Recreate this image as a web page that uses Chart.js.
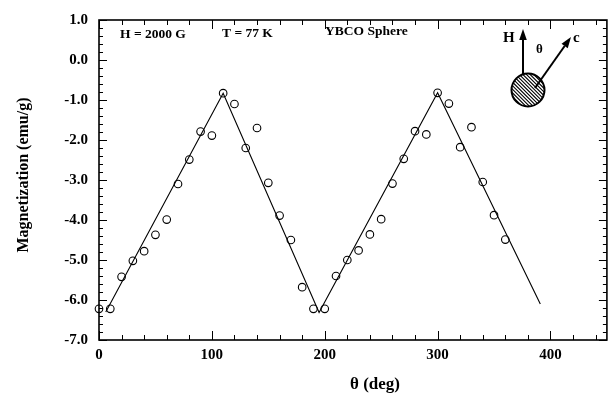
<!DOCTYPE html>
<html>
<head>
<meta charset="utf-8">
<script src="https://cdn.jsdelivr.net/npm/chart.js@4.4.0/dist/chart.umd.min.js"></script>
<style>
html,body{margin:0;padding:0;background:#fff;}
#wrap{width:612px;height:396px;}
</style>
</head>
<body>
<div id="wrap"><canvas id="c" width="612" height="396"></canvas></div>
<script>
// ---- data ----
const angles = [0,10,20,30,40,50,60,70,80,90,100,110,120,130,140,150,160,170,180,
                190,200,210,220,230,240,250,260,270,280,290,300,310,320,330,340,350,360];
const magnetization = [-6.22,-6.22,-5.42,-5.02,-4.78,-4.37,-3.99,-3.10,-2.49,-1.79,-1.89,-0.83,-1.10,-2.20,-1.70,-3.07,-3.89,-4.50,-5.68,
                       -6.22,-6.22,-5.40,-5.00,-4.76,-4.36,-3.98,-3.09,-2.47,-1.78,-1.86,-0.82,-1.09,-2.18,-1.68,-3.05,-3.88,-4.49];
const fitAngles = [6,110,195,300,391];
const fitValues = [-6.30,-0.83,-6.31,-0.82,-6.10];
const xTicks = [0,100,200,300,400];
const yTicks = [1,0,-1,-2,-3,-4,-5,-6,-7];
const xRange = [0,450];
const yRange = [-7,1];
const xMinorStep = 20;
const yMinorStep = 0.2;

const FONT = '"Liberation Serif", "Times New Roman", serif';

const framePlugin = {
  id:'framePlugin',
  afterDraw(chart){
    const {ctx, chartArea:a, scales:{x,y}} = chart;
    ctx.save();
    ctx.strokeStyle='#000';
    ctx.lineWidth=1;
    ctx.beginPath();
    const nx = Math.round((xRange[1]-xRange[0])/xMinorStep);
    for(let i=0;i<=nx;i++){
      const v = xRange[0]+i*xMinorStep;
      const px = Math.round(x.getPixelForValue(v))+0.5;
      const major = xTicks.includes(v);
      const len = major?9:5;
      ctx.moveTo(px,a.bottom); ctx.lineTo(px,a.bottom-len);
      ctx.moveTo(px,a.top); ctx.lineTo(px,a.top+len);
    }
    const ny = Math.round((yRange[1]-yRange[0])/yMinorStep);
    for(let i=0;i<=ny;i++){
      const v = +(yRange[0]+i*yMinorStep).toFixed(3);
      const py = Math.round(y.getPixelForValue(v))+0.5;
      const major = yTicks.some(t=>Math.abs(t-v)<1e-6);
      const len = major?8:4;
      ctx.moveTo(a.left,py); ctx.lineTo(a.left+len,py);
      ctx.moveTo(a.right,py); ctx.lineTo(a.right-len,py);
    }
    ctx.stroke();
    ctx.lineWidth=1.6;
    ctx.strokeRect(a.left,a.top,a.right-a.left,a.bottom-a.top);

    // annotations
    ctx.fillStyle='#000';
    ctx.textBaseline='alphabetic';
    ctx.textAlign='left';
    ctx.font='bold 13.5px '+FONT;
    ctx.fillText('H = 2000 G',120,38);
    ctx.fillText('T = 77 K',222,37);
    ctx.fillText('YBCO Sphere',325,35);

    // axis titles
    ctx.font='bold 17px '+FONT;
    ctx.textAlign='center';
    ctx.fillText('\u03B8 (deg)',375,389);
    ctx.save();
    ctx.translate(28,175);
    ctx.rotate(-Math.PI/2);
    ctx.font='bold 16px '+FONT;
    ctx.fillText('Magnetization (emu/g)',0,0);
    ctx.restore();

    // inset sketch: sphere with field H and c-axis
    const cx=528, cy=90, r=16.5;
    ctx.save();
    ctx.beginPath(); ctx.arc(cx,cy,r,0,Math.PI*2); ctx.clip();
    ctx.lineWidth=1.1;
    ctx.beginPath();
    for(let k=-40;k<=40;k+=3.6){
      ctx.moveTo(cx-r-2+k, cy-r-2); ctx.lineTo(cx+r+2+k, cy+r+2);
    }
    ctx.stroke();
    ctx.restore();
    ctx.lineWidth=2;
    ctx.beginPath(); ctx.arc(cx,cy,r,0,Math.PI*2); ctx.stroke();

    function arrow(x0,y0,x1,y1){
      const ang=Math.atan2(y1-y0,x1-x0), L=11, W=3.8;
      const bx=x1-L*Math.cos(ang), by=y1-L*Math.sin(ang);
      ctx.lineWidth=2;
      ctx.beginPath(); ctx.moveTo(x0,y0); ctx.lineTo(bx,by); ctx.stroke();
      ctx.beginPath();
      ctx.moveTo(x1,y1);
      ctx.lineTo(bx+W*Math.sin(ang), by-W*Math.cos(ang));
      ctx.lineTo(bx-W*Math.sin(ang), by+W*Math.cos(ang));
      ctx.closePath(); ctx.fill();
    }
    arrow(523,74,523,29);
    arrow(535,88,571,37);
    ctx.textAlign='left';
    ctx.font='bold 15px '+FONT;
    ctx.fillText('H',503,42);
    ctx.font='bold 13px '+FONT;
    ctx.fillText('\u03B8',536,53);
    ctx.font='bold 15px '+FONT;
    ctx.fillText('c',573,42);
    ctx.restore();
  }
};

new Chart(document.getElementById('c'),{
  type:'scatter',
  data:{
    datasets:[
      {
        type:'line',
        data:fitAngles.map((a,i)=>({x:a,y:fitValues[i]})),
        borderColor:'#000',
        borderWidth:1.1,
        pointRadius:0,
        fill:false,
        tension:0
      },
      {
        data:angles.map((a,i)=>({x:a,y:magnetization[i]})),
        clip:false,
        pointStyle:'circle',
        pointRadius:3.8,
        pointBorderWidth:1.1,
        borderColor:'#000',
        backgroundColor:'rgba(0,0,0,0)',
        pointBackgroundColor:'rgba(0,0,0,0)'
      }
    ]
  },
  options:{
    responsive:false,
    animation:false,
    devicePixelRatio:1,
    layout:{padding:{left:0,right:2,top:12,bottom:0}},
    plugins:{legend:{display:false},tooltip:{enabled:false}},
    scales:{
      x:{
        type:'linear',
        min:xRange[0], max:xRange[1],
        afterBuildTicks(s){ s.ticks = xTicks.map(v=>({value:v})); },
        afterFit(s){ s.height = 56; },
        grid:{display:false, drawTicks:false},
        border:{display:false},
        ticks:{padding:6, color:'#000', font:{family:FONT, weight:'bold', size:15}, callback:v=>String(v), maxRotation:0}
      },
      y:{
        type:'linear',
        min:yRange[0], max:yRange[1],
        afterBuildTicks(s){ s.ticks = yTicks.map(v=>({value:v})); },
        afterFit(s){ s.width = 99; },
        grid:{display:false, drawTicks:false},
        border:{display:false},
        ticks:{padding:11, color:'#000', font:{family:FONT, weight:'bold', size:15}, callback:v=>Number(v).toFixed(1)}
      }
    }
  },
  plugins:[framePlugin]
});
</script>
</body>
</html>
